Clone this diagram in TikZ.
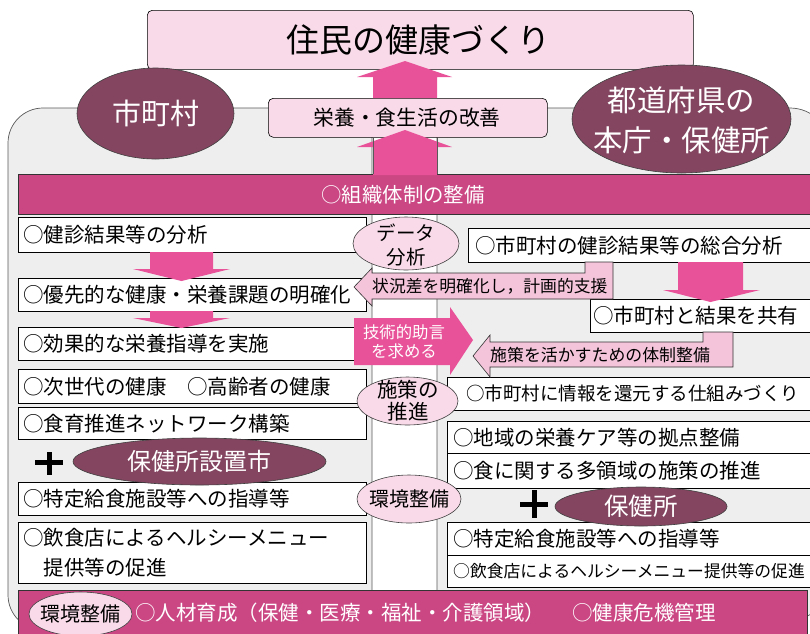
\documentclass[tikz,border=0pt]{standalone}
\usepackage{fontspec}
\setmainfont{Noto Sans CJK JP}
\usetikzlibrary{shapes.geometric}
\definecolor{lpink}{HTML}{F8DAE8}
\definecolor{apink}{HTML}{E85298}
\definecolor{mag}{HTML}{CB4784}
\definecolor{plum}{HTML}{844560}
\definecolor{panelg}{HTML}{EEEEEE}
\definecolor{arrlt}{HTML}{F4C4DA}
\newcommand\myfs[1]{\fontsize{#1pt}{#1pt}\selectfont}
\begin{document}
\begin{tikzpicture}[x=1pt,y=-1pt,
  wbox/.style={draw=black,fill=white,line width=0.6pt,inner sep=0pt,anchor=north west},
  pbox/.style={draw=black,fill=lpink,line width=0.6pt,inner sep=0pt,anchor=north west,rounded corners=5pt},
  bar/.style={draw=black!80,fill=mag,line width=0.6pt,inner sep=0pt,anchor=north west},
  plumell/.style={ellipse,draw=black!75,fill=plum,line width=0.6pt,inner sep=0pt},
  pinkell/.style={ellipse,draw=black!75,fill=lpink,line width=0.6pt,inner sep=0pt},
  lt/.style={anchor=west,inner sep=0pt,font=\myfs{20.5}},
  wt/.style={inner sep=0pt,text=white},
  bigarrow/.style={fill=apink},
  ltarrow/.style={fill=arrlt,draw=black!80,line width=0.6pt},
  panel/.style={fill=panelg,draw=black!65,line width=0.7pt},
  plus/.style={line width=5pt}
]
\useasboundingbox (0,0) rectangle (810,633);
\fill[white] (0,0) rectangle (810,633);

% panels
\path[panel] (372,108) -- (43,108) .. controls (23.7,108) and (8,123.7) .. (8,143) -- (8,595) .. controls (8,614.3) and (23.7,630) .. (43,630) -- (372,630) -- cycle;
\path[panel] (437,108) -- (790,108) .. controls (812.1,108) and (830,125.9) .. (830,148) -- (830,580) .. controls (830,602.1) and (812.1,620) .. (790,620) -- (437,620) -- cycle;

% top boxes
\node[pbox,minimum width=546pt,minimum height=59pt] (top) at (147,10) {};
\node[inner sep=0pt,font=\myfs{33}] (toptxt) at (418,40) {住民の健康づくり};
\node[pbox,minimum width=279pt,minimum height=39pt] (eiyo) at (268,98) {};
\node[inner sep=0pt,font=\myfs{20.8}] (eiyotxt) at (407,117.5) {栄養・食生活の改善};

% bars
\node[bar,minimum width=794pt,minimum height=40pt] (soshiki) at (18,174) {};
\node[wt,font=\myfs{20.4}] (soshikitxt) at (403,194.5) {○組織体制の整備};
\node[bar,minimum width=789pt,minimum height=50pt] (jinzai) at (18,590) {};
\node[wt,anchor=west,font=\myfs{20.5}] (jinzaitxt) at (135,613) {○人材育成（保健・医療・福祉・介護領域）\hspace{27pt}○健康危機管理};

% big up arrows
\fill[bigarrow] (373,98) -- (373,77) -- (357,77) -- (405,61) -- (452,77) -- (437,77) -- (437,98) -- cycle;
\fill[bigarrow] (373,175) -- (373,147) -- (357,147) -- (405,130) -- (452,147) -- (437,147) -- (437,175) -- cycle;
\draw[black!65,line width=0.7pt] (373,138) -- (373,174) (437,138) -- (437,174);

% region ellipses
\node[plumell,minimum width=157pt,minimum height=91pt] (muni) at (155.5,113.5) {};
\node[wt,font=\myfs{29}] (munitxt) at (muni.center) {市町村};
\node[plumell,minimum width=219pt,minimum height=108pt] (pref) at (681.5,119) {};
\node[wt,align=center,font=\fontsize{29.5pt}{40pt}\selectfont] (preftxt) at (681.5,120) {都道府県の\\本庁・保健所};

% left boxes
\node[wbox,minimum width=348pt,minimum height=35pt] (L1) at (18,217) {};
\node[wbox,minimum width=348pt,minimum height=33pt] (L2) at (18,278) {};
\node[wbox,minimum width=348pt,minimum height=33pt] (L3) at (18,327) {};
\node[wbox,minimum width=348pt,minimum height=34pt] (L4) at (18,369) {};
\node[wbox,minimum width=348pt,minimum height=32pt] (L5) at (18,407) {};
\node[wbox,minimum width=348pt,minimum height=33pt] (L6) at (18,482) {};
\node[wbox,minimum width=348pt,minimum height=61pt] (L7) at (18,522) {};
\node[lt] (t1) at ([xshift=5pt]L1.west) {○健診結果等の分析};
\node[lt] (t2) at ([xshift=5pt]L2.west) {○優先的な健康・栄養課題の明確化};
\node[lt] (t3) at ([xshift=5pt]L3.west) {○効果的な栄養指導を実施};
\node[lt] (t4) at ([xshift=5pt]L4.west) {○次世代の健康　○高齢者の健康};
\node[lt] (t5) at ([xshift=5pt]L5.west) {○食育推進ネットワーク構築};
\node[lt] (t6) at ([xshift=5pt]L6.west) {○特定給食施設等への指導等};
\node[lt,align=left,font=\fontsize{20.5pt}{30pt}\selectfont] (t7) at ([xshift=5pt]L7.west) {○飲食店によるヘルシーメニュー\\\hspace{20.5pt}提供等の促進};

% left down arrows
\fill[bigarrow] (150,252) -- (150,269) -- (133,269) -- (181.5,281) -- (230,269) -- (213,269) -- (213,252) -- cycle;
\fill[bigarrow] (150,311) -- (150,318) -- (133,318) -- (181.5,328) -- (230,318) -- (213,318) -- (213,311) -- cycle;

% plus and 保健所設置市
\draw[plus] (35,462.5) -- (63,462.5) (49,452) -- (49,475);
\node[plumell,minimum width=253pt,minimum height=47pt] (shi) at (199.5,461.5) {};
\node[wt,font=\myfs{24}] (shitxt) at (shi.center) {保健所設置市};

% right boxes
\node[wbox,minimum width=350pt,minimum height=34pt] (R0) at (468,228) {};
\node[wbox,minimum width=228pt,minimum height=33pt] (R1) at (590,299) {};
\node[wbox,minimum width=371pt,minimum height=33pt] (R2) at (447,377) {};
\node[wbox,minimum width=371pt,minimum height=32pt] (R3) at (447,421) {};
\node[wbox,minimum width=371pt,minimum height=35pt] (R4) at (447,453) {};
\node[wbox,minimum width=371pt,minimum height=33pt] (R5) at (447,522) {};
\node[wbox,minimum width=371pt,minimum height=32pt] (R6) at (447,555) {};
\node[lt] (r0) at ([xshift=7pt]R0.west) {○市町村の健診結果等の総合分析};
\node[lt] (r1) at ([xshift=3pt]R1.west) {○市町村と結果を共有};
\node[lt,font=\myfs{18.5}] (r2) at ([xshift=19pt]R2.west) {○市町村に情報を還元する仕組みづくり};
\node[lt] (r3) at ([xshift=6pt]R3.west) {○地域の栄養ケア等の拠点整備};
\node[lt] (r4) at ([xshift=6pt]R4.west) {○食に関する多領域の施策の推進};
\node[lt] (r5) at ([xshift=6pt]R5.west) {○特定給食施設等への指導等};
\node[lt,font=\myfs{16.8}] (r6) at ([xshift=6pt]R6.west) {○飲食店によるヘルシーメニュー提供等の促進};

% right down arrow
\fill[bigarrow] (678,262) -- (678,290) -- (663,290) -- (710.5,302) -- (760,290) -- (743,290) -- (743,262) -- cycle;

% plus and 保健所
\draw[plus] (520,504) -- (548,504) (534,490) -- (534,518);
\node[plumell,minimum width=172pt,minimum height=39pt] (hc) at (641,506.5) {};
\node[wt,font=\myfs{24.5}] (hctxt) at (hc.center) {保健所};

% light arrows
\path[ltarrow] (354,287) -- (372,268) -- (372,273) -- (585,273) -- (585,262) -- (613,262) -- (613,299) -- (372,299) -- (372,306) -- cycle;
\node[anchor=west,inner sep=0pt,font=\myfs{16.8}] (jokyo) at (372,286.5) {状況差を明確化し，計画的支援};
\path[ltarrow] (473,356) -- (490,335) -- (490,342) -- (703,342) -- (703,332) -- (733,332) -- (733,367) -- (490,367) -- (490,377) -- cycle;
\node[anchor=west,inner sep=0pt,font=\myfs{16.9}] (taisei) at (490,355) {施策を活かすための体制整備};

% technical advice arrow
\fill[bigarrow] (354,318) -- (450,318) -- (450,307) -- (473,340) -- (450,375) -- (450,365) -- (354,365) -- cycle;
\node[wt,align=center,font=\fontsize{16.4pt}{19pt}\selectfont] (gijutsu) at (404,342) {技術的助言\\を求める};

% middle ellipses
\node[pinkell,minimum width=106pt,minimum height=53pt] (data) at (406,243.5) {};
\node[inner sep=0pt,align=center,font=\fontsize{19.5pt}{24pt}\selectfont] (datatxt) at (406,245) {データ\\分析};
\node[pinkell,minimum width=101pt,minimum height=48pt] (suishin) at (407.5,401) {};
\node[inner sep=0pt,align=center,font=\fontsize{20.5pt}{22pt}\selectfont] (suishintxt) at (408,401) {施策の\\推進};
\node[pinkell,minimum width=104pt,minimum height=48pt] (kankyo) at (409,499) {};
\node[inner sep=0pt,font=\myfs{20}] (kankyotxt) at (kankyo.center) {環境整備};
\node[pinkell,minimum width=103pt,minimum height=44pt] (kankyo2) at (80.5,614) {};
\node[inner sep=0pt,font=\myfs{20}] (kankyo2txt) at (kankyo2.center) {環境整備};
\end{tikzpicture}
\end{document}
